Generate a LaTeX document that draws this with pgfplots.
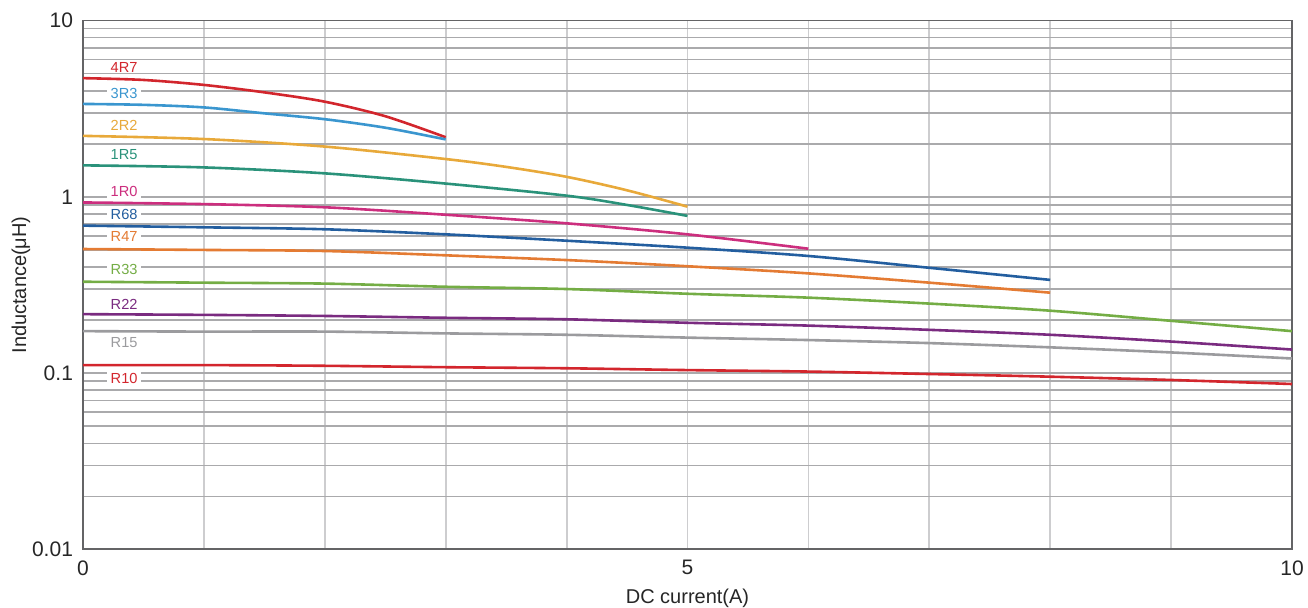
\documentclass[border=0pt]{standalone}
\usepackage{fontspec}
\setmainfont{Liberation Sans}
\usepackage{pgfplots}
\pgfplotsset{compat=1.18}

\definecolor{c4R7}{RGB}{210,38,45}
\definecolor{c3R3}{RGB}{58,150,207}
\definecolor{c2R2}{RGB}{232,169,58}
\definecolor{c1R5}{RGB}{42,146,122}
\definecolor{c1R0}{RGB}{204,46,126}
\definecolor{cR68}{RGB}{35,94,159}
\definecolor{cR47}{RGB}{228,123,51}
\definecolor{cR33}{RGB}{116,173,69}
\definecolor{cR22}{RGB}{122,43,128}
\definecolor{cR15}{RGB}{155,155,158}
\definecolor{cR10}{RGB}{211,38,45}
\definecolor{hgrid}{RGB}{170,170,172}
\definecolor{vgrid}{RGB}{205,205,207}
\definecolor{frame}{RGB}{100,100,102}

\begin{document}
\begin{tikzpicture}
\begin{axis}[
    scale only axis,
    width=604.5pt, height=264.3pt,
    ymode=log,
    xmin=0, xmax=10, ymin=0.01, ymax=10,
    xtick={0,5,10}, xticklabels={0,5,10},
    minor xtick={1,2,3,4,6,7,8,9},
    ytick={0.01,0.1,1,10}, yticklabels={0.01,0.1,1,10},
    grid=both,
    major x grid style={vgrid, line width=0.9pt},
    minor x grid style={vgrid, line width=0.9pt},
    major y grid style={hgrid, line width=0.7pt},
    minor y grid style={hgrid, line width=0.7pt},
    major tick length=0pt, minor tick length=0pt,
    axis line style={frame, line width=0.8pt},
    tick label style={font=\fontsize{10.5}{12}\selectfont, text=black!85},
    xticklabel style={yshift=-2pt},
    yticklabel style={xshift=-1.5pt},
    xlabel={DC current(A)},
    ylabel={Inductance(μH)},
    label style={font=\fontsize{10}{12}\selectfont, text=black!85},
    xlabel style={yshift=0pt},
    ylabel style={yshift=-6pt},
    every axis plot/.append style={line width=1.3pt, smooth, tension=0.5, no markers},
    clip=false,
]
\addplot[c4R7] coordinates {(0,4.72) (0.5,4.61) (1,4.32) (1.5,3.92) (2,3.47) (2.5,2.87) (3,2.18)};
\addplot[c3R3] coordinates {(0,3.37) (0.5,3.33) (1,3.22) (1.5,2.98) (2,2.76) (2.5,2.47) (3,2.12)};
\addplot[c2R2] coordinates {(0,2.22) (1,2.13) (2,1.93) (3,1.64) (3.5,1.48) (4,1.30) (4.5,1.09) (5,0.88)};
\addplot[c1R5] coordinates {(0,1.51) (1,1.47) (2,1.36) (3,1.19) (4,1.016) (4.5,0.90) (5,0.78)};
\addplot[c1R0] coordinates {(0,0.93) (1,0.91) (2,0.873) (3,0.792) (4,0.708) (5,0.613) (6,0.508)};
\addplot[cR68] coordinates {(0,0.687) (1,0.672) (2,0.655) (3,0.613) (4,0.564) (5,0.515) (6,0.462) (7,0.396) (8,0.338)};
\addplot[cR47] coordinates {(0,0.506) (1,0.50) (2,0.493) (3,0.466) (4,0.438) (5,0.404) (6,0.368) (7,0.326) (8,0.286)};
\addplot[cR33] coordinates {(0,0.33) (1,0.326) (2,0.322) (3,0.309) (4,0.300) (5,0.282) (6,0.268) (7,0.248) (8,0.226) (9,0.198) (10,0.173)};
\addplot[cR22] coordinates {(0,0.216) (1,0.214) (2,0.211) (3,0.206) (4,0.202) (5,0.193) (6,0.186) (7,0.176) (8,0.165) (9,0.151) (10,0.136)};
\addplot[cR15] coordinates {(0,0.173) (1,0.172) (2,0.172) (3,0.168) (4,0.165) (5,0.159) (6,0.154) (7,0.148) (8,0.140) (9,0.131) (10,0.121)};
\addplot[cR10] coordinates {(0,0.111) (1,0.111) (2,0.110) (3,0.108) (4,0.1065) (5,0.104) (6,0.102) (7,0.0988) (8,0.0954) (9,0.0914) (10,0.0867)};

% curve labels on white patches over the grid
\begin{scope}[every node/.style={fill=white, inner xsep=2pt, inner ysep=0.5pt, font=\fontsize{7.3}{8}\selectfont}]
\node[text=c4R7] at (axis cs:0.34,5.44) {4R7};
\node[text=c3R3] at (axis cs:0.34,3.87) {3R3};
\node[text=c2R2] at (axis cs:0.34,2.54) {2R2};
\node[text=c1R5] at (axis cs:0.34,1.736) {1R5};
\node[text=c1R0] at (axis cs:0.34,1.07) {1R0};
\node[text=cR68] at (axis cs:0.34,0.797) {R68};
\node[text=cR47] at (axis cs:0.34,0.594) {R47};
\node[text=cR33] at (axis cs:0.34,0.385) {R33};
\node[text=cR22] at (axis cs:0.34,0.246) {R22};
\node[text=cR15] at (axis cs:0.34,0.1488) {R15};
\node[text=cR10] at (axis cs:0.34,0.0934) {R10};
\end{scope}
\end{axis}
\pgfresetboundingbox
\useasboundingbox ([shift={(-41.5pt,-29pt)}]current axis.south west) rectangle ([shift={(8pt,10.35pt)}]current axis.north east);
\end{tikzpicture}
\end{document}
